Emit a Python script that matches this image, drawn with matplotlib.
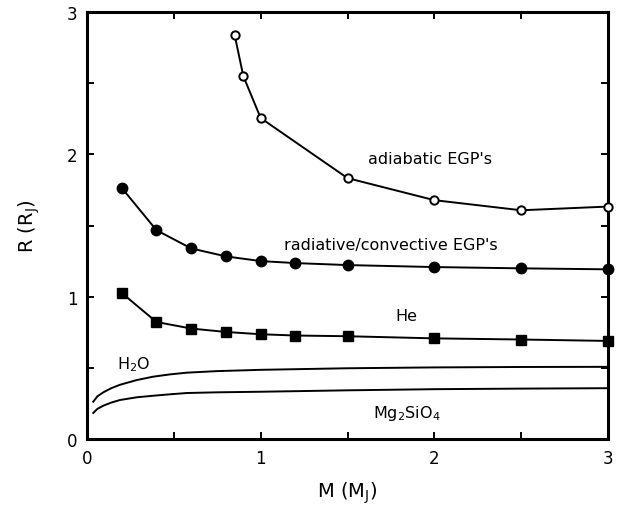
import matplotlib
matplotlib.use("Agg")
import matplotlib.pyplot as plt

# adiabatic EGP's (open circles)
adi_m = [0.85, 0.9, 1.0, 1.5, 2.0, 2.5, 3.0]
adi_r = [2.84, 2.55, 2.255, 1.833, 1.678, 1.607, 1.633]

# radiative/convective EGP's (filled circles)
rad_m = [0.2, 0.4, 0.6, 0.8, 1.0, 1.2, 1.5, 2.0, 2.5, 3.0]
rad_r = [1.764, 1.467, 1.339, 1.283, 1.25, 1.236, 1.222, 1.208, 1.199, 1.192]

# He (filled squares)
he_m = [0.2, 0.4, 0.6, 0.8, 1.0, 1.2, 1.5, 2.0, 2.5, 3.0]
he_r = [1.026, 0.822, 0.776, 0.752, 0.736, 0.727, 0.722, 0.707, 0.699, 0.689]

# H2O curve
h2o_m = [0.036, 0.06, 0.094, 0.14, 0.19, 0.286, 0.382, 0.478, 0.574, 0.75, 1.0, 1.5, 2.0, 2.5, 3.0]
h2o_r = [0.262, 0.300, 0.328, 0.357, 0.381, 0.414, 0.438, 0.454, 0.466, 0.477, 0.486, 0.497, 0.503, 0.506, 0.507]

# Mg2SiO4 curve
mg_m = [0.036, 0.06, 0.094, 0.14, 0.19, 0.286, 0.382, 0.478, 0.574, 0.75, 1.0, 1.5, 2.0, 2.5, 3.0]
mg_r = [0.183, 0.212, 0.234, 0.256, 0.274, 0.293, 0.304, 0.314, 0.323, 0.328, 0.332, 0.342, 0.350, 0.354, 0.357]

ticks = [0, 0.5, 1, 1.5, 2, 2.5, 3]
tick_labels = ["0", "", "1", "", "2", "", "3"]

plt.rcParams['font.family'] = ['DejaVu Sans']
fig = plt.figure(figsize=(6.23, 5.10), dpi=100)
ax = fig.add_axes([87/623, 1 - 440/510, (608-87)/623, (440-13)/510])

lw = 1.4
ax.plot(adi_m, adi_r, color='black', lw=lw, marker='o', ms=6, mfc='white', mec='black', mew=1.4, clip_on=False, zorder=3)
ax.plot(rad_m, rad_r, color='black', lw=lw, marker='o', ms=7.5, mfc='black', mec='black', clip_on=False, zorder=3)
ax.plot(he_m, he_r, color='black', lw=lw, marker='s', ms=7, mfc='black', mec='black', clip_on=False, zorder=3)
ax.plot(h2o_m, h2o_r, color='black', lw=lw, clip_on=False)
ax.plot(mg_m, mg_r, color='black', lw=lw, clip_on=False)

ax.set_xlim(0, 3)
ax.set_ylim(0, 3)
ax.set_xticks(ticks)
ax.set_xticklabels(tick_labels)
ax.set_yticks(ticks)
ax.set_yticklabels(tick_labels)
ax.tick_params(direction='in', length=5, width=1.4, top=True, right=True, labelsize=12, pad=7)
for s in ax.spines.values():
    s.set_linewidth(2.2)

fs = 11.5
ax.text(1.975, 1.971, "adiabatic EGP's", ha='center', va='center', fontsize=fs)
ax.text(1.747, 1.369, "radiative/convective EGP's", ha='center', va='center', fontsize=fs)
ax.text(1.84, 0.866, "He", ha='center', va='center', fontsize=fs)
ax.text(0.267, 0.527, r"H$_2$O", ha='center', va='center', fontsize=fs)
ax.text(1.843, 0.187, r"Mg$_2$SiO$_4$", ha='center', va='center', fontsize=fs)

ax.set_xlabel(r"M (M$_\mathregular{J}$)", fontsize=14, labelpad=9)
ax.set_ylabel(r"R (R$_\mathregular{J}$)", fontsize=14, labelpad=18)

fig.savefig("out.png", dpi=100)
